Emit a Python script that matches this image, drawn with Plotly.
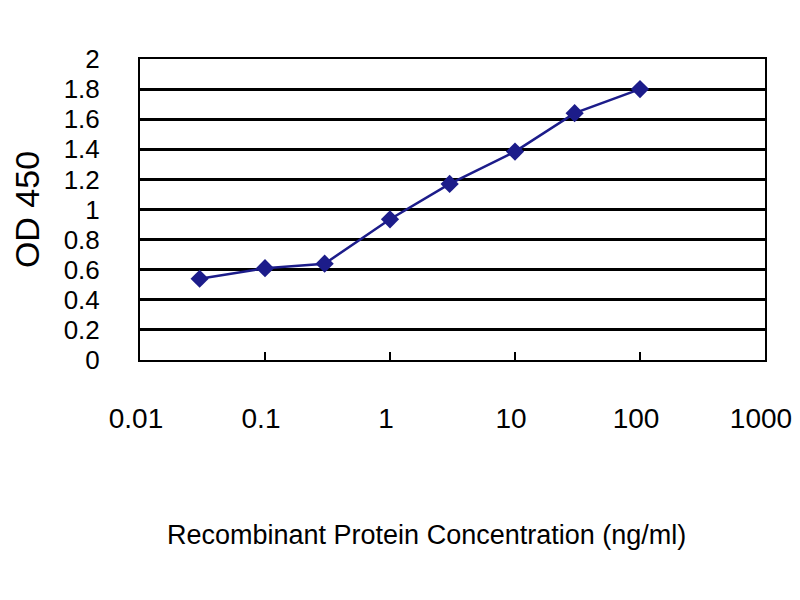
import plotly.graph_objects as go

# 濃度 (ng/ml) 與 OD450 讀值
conc = [0.03, 0.1, 0.3, 1, 3, 10, 30, 100]
od450 = [0.54, 0.61, 0.64, 0.935, 1.17, 1.385, 1.64, 1.80]

x_ticks = [0.01, 0.1, 1, 10, 100, 1000]
x_tick_text = ["0.01", "0.1", "1", "10", "100", "1000"]
y_ticks = [0, 0.2, 0.4, 0.6, 0.8, 1, 1.2, 1.4, 1.6, 1.8, 2]
y_tick_text = ["0", "0.2", "0.4", "0.6", "0.8", "1", "1.2", "1.4", "1.6", "1.8", "2"]

fig = go.Figure()
fig.add_trace(go.Scatter(
    x=conc, y=od450, mode='lines+markers',
    line=dict(color='#1c1c8a', width=2.5),
    marker=dict(symbol='diamond', size=14, color='#1c1c8a'),
    showlegend=False
))

font_name = "Liberation Sans, Arial, sans-serif"
fig.update_layout(
    width=800, height=600,
    paper_bgcolor='white', plot_bgcolor='white',
    margin=dict(l=132, r=43, t=51, b=248),
    font=dict(family=font_name, color='black'),
    xaxis=dict(
        type='log', range=[-2, 3], automargin=False,
        tickvals=x_ticks, ticktext=x_tick_text,
        tickfont=dict(size=28), ticklabelstandoff=32, ticklabelshift=-4,
        ticks='inside', ticklen=8, tickcolor='black', tickwidth=2,
        showgrid=False, showline=True, linecolor='black', linewidth=2, mirror=True,
    ),
    yaxis=dict(
        range=[0, 2], automargin=False,
        tickvals=y_ticks, ticktext=y_tick_text,
        tickfont=dict(size=26), ticks='', ticklabelstandoff=33,
        showgrid=True, gridcolor='black', gridwidth=3,
        showline=True, linecolor='black', linewidth=2, mirror=True,
        zeroline=False,
        title=dict(text='OD 450', font=dict(size=34), standoff=14),
    ),
    # x 軸標題偏左，用註解放置
    annotations=[dict(
        text='Recombinant Protein Concentration (ng/ml)',
        xref='paper', yref='paper', x=0.459, y=-0.581,
        xanchor='center', yanchor='middle', showarrow=False,
        font=dict(size=27),
    )],
)

fig.write_html("out.html")
